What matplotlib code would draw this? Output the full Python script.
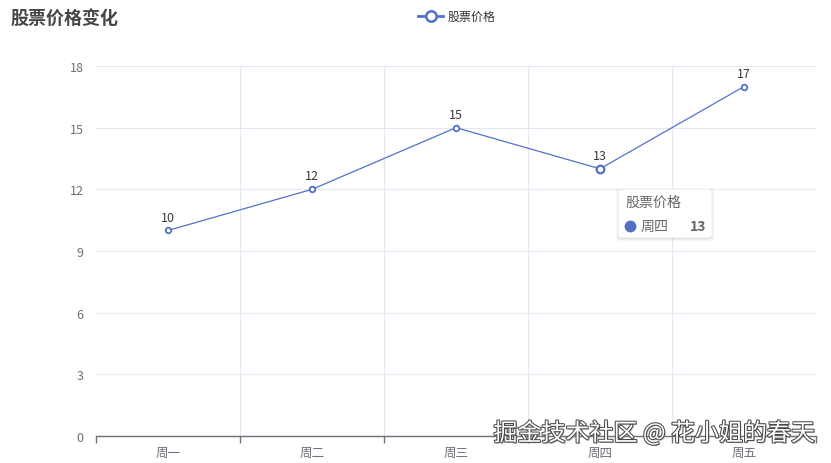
import matplotlib
matplotlib.use("Agg")
import matplotlib.pyplot as plt
from matplotlib.patches import FancyBboxPatch
from matplotlib.ticker import FixedLocator
import matplotlib.patheffects as pe

plt.rcParams['font.family'] = ['Noto Sans CJK SC', 'DejaVu Sans']

categories = ['周一', '周二', '周三', '周四', '周五']
prices = [10, 12, 15, 13, 17]
series_name = '股票价格'
title = '股票价格变化'
yticks = [0, 3, 6, 9, 12, 15, 18]
hover_index = 3

W, H = 831, 464
fig = plt.figure(figsize=(W / 100, H / 100), dpi=100)
L, R, T, B = 96, 816, 67, 437
ax = fig.add_axes([L / W, (H - B) / H, (R - L) / W, (B - T) / H])

line_color = '#5470c6'
grid_color = '#e3e8f2'
label_color = '#6e7079'
px = 72 / 100

x = list(range(len(categories)))
ax.set_xlim(-0.5, len(categories) - 0.5)
ax.set_ylim(0, 18)

# grid
for yv in yticks[1:]:
    ax.axhline(yv, color=grid_color, lw=0.8, zorder=0)
for b in range(1, len(categories) + 1):
    ax.axvline(b - 0.5, color=grid_color, lw=0.8, zorder=0)

ax.plot(x, prices, color=line_color, lw=0.9, zorder=3,
        marker='o', markersize=4, markerfacecolor='white',
        markeredgecolor=line_color, markeredgewidth=1.3)
ax.plot([x[hover_index]], [prices[hover_index]], 'o', markersize=5.5,
        markerfacecolor='white', markeredgecolor=line_color,
        markeredgewidth=1.6, zorder=4)

for xi, v in zip(x, prices):
    ax.annotate(str(v), (xi, v), xytext=(0, 5), textcoords='offset points',
                ha='center', va='bottom', fontsize=12.5 * px, color='#3a3a3a')

for s in ['top', 'right', 'left']:
    ax.spines[s].set_visible(False)
ax.spines['bottom'].set_color(label_color)
ax.spines['bottom'].set_linewidth(1)

ax.set_yticks(yticks)
ax.set_yticklabels([str(t) for t in yticks])
ax.tick_params(axis='y', length=0, pad=9, labelsize=12.5 * px, labelcolor=label_color)
ax.set_xticks(x)
ax.set_xticklabels(categories)
ax.tick_params(axis='x', length=0, pad=7, labelsize=12.5 * px, labelcolor=label_color)
ax.xaxis.set_minor_locator(FixedLocator([b - 0.5 for b in range(len(categories) + 1)]))
ax.tick_params(axis='x', which='minor', length=5, width=1, color=label_color, direction='out')

# title
fig.text(10 / W, 1 - 20 / H, title, fontsize=18 * px, fontweight='bold',
         color='#464646', ha='left', va='center')

# legend
ly = 1 - 17 / H
fig.add_artist(plt.Line2D([418 / W, 443 / W], [ly, ly], color=line_color, lw=2))
fig.add_artist(plt.Line2D([430.5 / W], [ly], marker='o', markersize=7.5,
                          markerfacecolor='white', markeredgecolor=line_color,
                          markeredgewidth=1.8, color=line_color))
fig.text(448 / W, ly, series_name, fontsize=12 * px, color='#333333',
         ha='left', va='center')

# tooltip
tx0, ty0, tw, th = 619, 191, 92, 47
for i, a in enumerate([0.05, 0.04, 0.03]):
    shadow = FancyBboxPatch(((tx0 - 1 - i) / W, 1 - (ty0 + th + 2 + i) / H),
                            (tw + 2 + 2 * i) / W, (th + 2 + 2 * i) / H,
                            boxstyle='round,pad=0,rounding_size=0.006',
                            transform=fig.transFigure, facecolor='#000000', alpha=a,
                            edgecolor='none', zorder=9)
    fig.add_artist(shadow)
box = FancyBboxPatch((tx0 / W, 1 - (ty0 + th) / H), tw / W, th / H,
                     boxstyle='round,pad=0,rounding_size=0.005',
                     transform=fig.transFigure, facecolor='white',
                     edgecolor='white', lw=1, zorder=10)
fig.add_artist(box)
fig.text(625 / W, 1 - 203 / H, series_name, fontsize=14 * px, color='#666666',
         ha='left', va='center', zorder=11)
fig.add_artist(plt.Line2D([630 / W], [1 - 227 / H], marker='o', markersize=7.5,
                          color=line_color, markeredgecolor=line_color, zorder=11))
fig.text(641 / W, 1 - 227 / H, categories[hover_index], fontsize=14 * px,
         color='#666666', ha='left', va='center', zorder=11)
fig.text(706 / W, 1 - 227 / H, str(prices[hover_index]), fontsize=14 * px,
         color='#666666', fontweight='bold', ha='right', va='center', zorder=11)

# watermark
fig.text(815 / W, 1 - 434 / H, '掘金技术社区 @ 花小姐的春天', fontsize=24 * px,
         color='white', ha='right', va='center', zorder=12,
         path_effects=[pe.withSimplePatchShadow(offset=(1, -1), shadow_rgbFace='#999999', alpha=0.8),
                       pe.withStroke(linewidth=1.5, foreground='#4a4a4a')])

fig.savefig('out.png', dpi=100, facecolor='white')
